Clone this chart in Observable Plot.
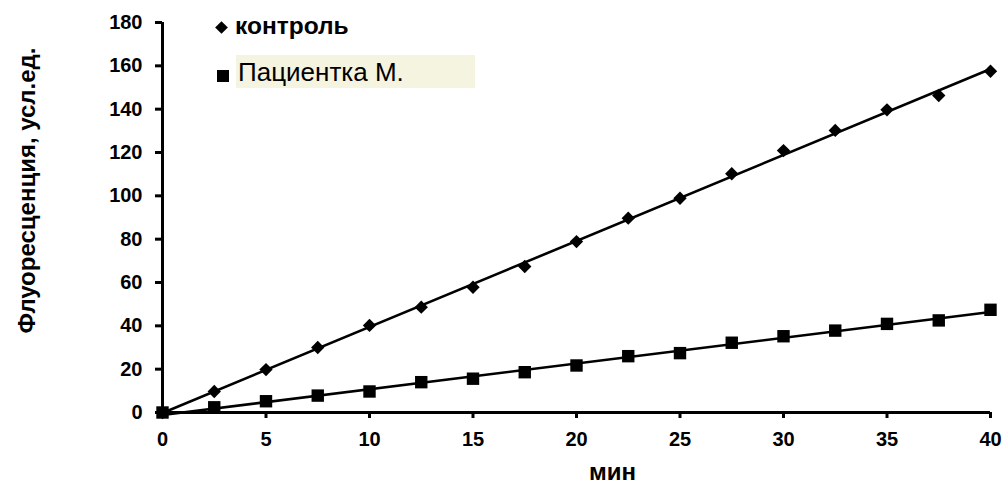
<!DOCTYPE html>
<html>
<head>
<meta charset="utf-8">
<script src="https://cdn.jsdelivr.net/npm/d3@7"></script>
<script src="https://cdn.jsdelivr.net/npm/@observablehq/plot@0.6"></script>
<style>
  html, body { margin: 0; padding: 0; background: #fff; }
  #wrap { position: relative; width: 1002px; height: 484px; font-family: "Liberation Sans", Arial, sans-serif; }
  .lg { position: absolute; white-space: nowrap; color: #000; }
</style>
</head>
<body>
<div id="wrap"></div>
<script>
const minutes = [0, 2.5, 5, 7.5, 10, 12.5, 15, 17.5, 20, 22.5, 25, 27.5, 30, 32.5, 35, 37.5, 40];
const control = [0, 9.7, 19.8, 30, 40.2, 48.6, 57.8, 67.4, 78.9, 89.7, 98.9, 110.2, 120.9, 130.2, 139.7, 146.3, 157.5];
const patient = [0, 2.4, 5.2, 7.8, 9.7, 14, 15.6, 18.6, 21.7, 26, 27.4, 32.2, 35.2, 37.8, 40.9, 42.5, 47.4];
const seriesNames = ["контроль", "Пациентка М."];
const xTicks = [0, 5, 10, 15, 20, 25, 30, 35, 40];
const yTicks = [0, 20, 40, 60, 80, 100, 120, 140, 160, 180];
const xLabel = "мин";
const yLabel = "Флуоресценция, усл.ед.";

const controlRows = minutes.map((t, i) => ({t, v: control[i], s: seriesNames[0]}));
const patientRows = minutes.map((t, i) => ({t, v: patient[i], s: seriesNames[1]}));
const rows = controlRows.concat(patientRows);

const font = "Liberation Sans, Arial, sans-serif";

const chart = Plot.plot({
  width: 1002,
  height: 484,
  marginLeft: 162,
  marginRight: 12,
  marginTop: 22,
  marginBottom: 72,
  style: {fontFamily: font, background: "#fff", color: "#000"},
  x: {domain: [0, 40]},
  y: {domain: [0, 180]},
  marks: [
    Plot.axisX({ticks: xTicks, tickSize: 6, tickPadding: 13, fontSize: 20, fontWeight: "bold", stroke: "#000", strokeWidth: 3, label: null}),
    Plot.axisY({ticks: yTicks, tickSize: 7, tickPadding: 13, fontSize: 20, fontWeight: "bold", stroke: "#000", strokeWidth: 3, label: null}),
    Plot.ruleX([0], {stroke: "#000", strokeWidth: 3}),
    Plot.ruleY([0], {stroke: "#000", strokeWidth: 3}),
    Plot.linearRegressionY(rows, {x: "t", y: "v", z: "s", stroke: "#000", strokeWidth: 2.6, ci: 0}),
    Plot.dot(controlRows, {x: "t", y: "v", symbol: "diamond2", r: 6, fill: "#000", stroke: "none"}),
    Plot.dot(patientRows, {x: "t", y: "v", symbol: "square", r: 7, fill: "#000", stroke: "none"}),
    Plot.text([yLabel], {frameAnchor: "left", rotate: -90, dx: -135, dy: -27, textAnchor: "middle", lineAnchor: "middle", fontSize: 24, fontWeight: "bold", fill: "#000"}),
    Plot.text([xLabel], {frameAnchor: "bottom", dx: 36, dy: 67, textAnchor: "middle", lineAnchor: "bottom", fontSize: 24, fontWeight: "bold", fill: "#000"})
  ]
});

const wrap = document.getElementById("wrap");
chart.style.position = "absolute";
chart.style.left = "0px";
chart.style.top = "0px";
wrap.appendChild(chart);

// Legend overlay
function add(html, css) {
  const d = document.createElement("div");
  d.className = "lg";
  d.innerHTML = html;
  Object.assign(d.style, css);
  wrap.appendChild(d);
  return d;
}
add("", {left: "217px", top: "22.5px", width: "9px", height: "9px", background: "#000", transform: "rotate(45deg)"});
add(seriesNames[0], {left: "235px", top: "11px", fontSize: "24.5px", fontWeight: "bold", lineHeight: "30px"});
add("", {left: "236px", top: "55px", width: "239px", height: "33px", background: "#f4f4e1"});
add("", {left: "217px", top: "69.5px", width: "12px", height: "12px", background: "#000"});
add(seriesNames[1], {left: "238px", top: "56px", fontSize: "26px", fontWeight: "normal", lineHeight: "32px"});
</script>
</body>
</html>
